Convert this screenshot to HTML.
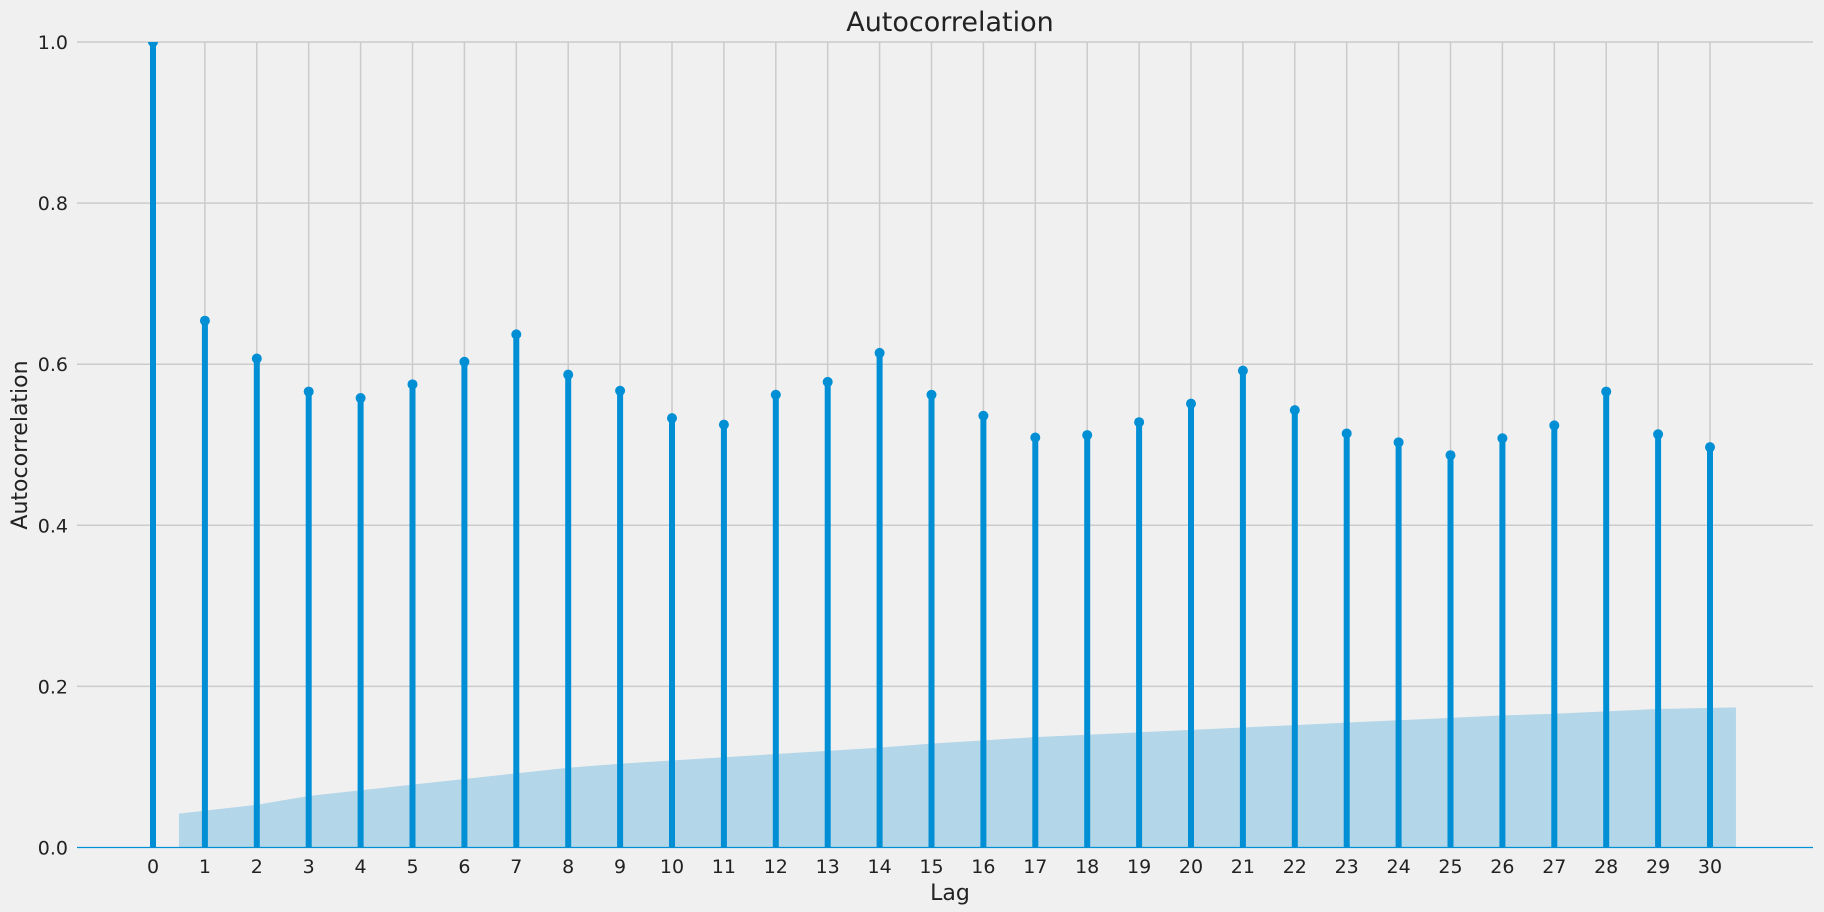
<!DOCTYPE html>
<html><head><meta charset="utf-8"><style>
html,body{margin:0;padding:0;background:#f0f0f0;}
svg{display:block;font-family:"DejaVu Sans","Liberation Sans",sans-serif;}
</style></head><body>
<svg id="chart" width="1824" height="912" viewBox="0 0 1824 912" xmlns="http://www.w3.org/2000/svg">
<defs><clipPath id="plotclip"><rect x="0" y="42" width="1824" height="830"/></clipPath></defs>
<rect width="1824" height="912" fill="#f0f0f0"/>
<g id="grid"></g>
<g id="band"></g>
<g id="stems" clip-path="url(#plotclip)"></g>
<g id="ticks"></g>
<text x="950" y="31" font-size="27" text-anchor="middle" fill="#222">Autocorrelation</text>
<text x="950" y="900" font-size="22" text-anchor="middle" fill="#222">Lag</text>
<text x="27" y="445" font-size="22" text-anchor="middle" fill="#222" transform="rotate(-90 27 445)">Autocorrelation</text>
</svg>
<script>
const lags = [0,1,2,3,4,5,6,7,8,9,10,11,12,13,14,15,16,17,18,19,20,21,22,23,24,25,26,27,28,29,30];
const acfValues = [1,0.654,0.607,0.566,0.558,0.575,0.603,0.637,0.587,0.567,0.533,0.525,0.562,0.578,0.614,0.562,0.536,0.509,0.512,0.528,0.551,0.592,0.543,0.514,0.503,0.487,0.508,0.524,0.566,0.513,0.497];
const confBand = [0,0.042,0.053,0.064,0.071,0.078,0.085,0.092,0.099,0.104,0.108,0.112,0.116,0.120,0.124,0.129,0.133,0.137,0.140,0.143,0.146,0.149,0.152,0.155,0.158,0.161,0.164,0.166,0.169,0.172,0.174];
const yTicks = [0,0.2,0.4,0.6,0.8,1.0];
const yTickLabels = ["0.0","0.2","0.4","0.6","0.8","1.0"];

const NS="http://www.w3.org/2000/svg";
const X0=77, X1=1813, Y0=847.5, Y1=42;
function xs(l){return 153 + l*(1710-153)/30;}
function ys(v){return Y0 - v*(Y0-Y1);}
function mk(tag,attrs,parent){const e=document.createElementNS(NS,tag);for(const k in attrs)e.setAttribute(k,attrs[k]);parent.appendChild(e);return e;}
const grid=document.getElementById('grid'),band=document.getElementById('band'),stems=document.getElementById('stems'),ticks=document.getElementById('ticks');

yTicks.forEach((v,i)=>{
  if(v>0){const g=mk('line',{x1:X0,x2:X1,y1:ys(v),y2:ys(v),stroke:'#cbcbcb','stroke-width':1.5},grid);
  
  }
  const t=mk('text',{x:68,y:ys(v)+7,'font-size':19,'text-anchor':'end',fill:'#222'},ticks);
  t.textContent=yTickLabels[i];
  
  
});
lags.forEach(l=>{
  const g=mk('line',{x1:xs(l),x2:xs(l),y1:Y1,y2:Y0,stroke:'#cbcbcb','stroke-width':1.5},grid);
  
  
  const t=mk('text',{x:xs(l),y:873,'font-size':19,'text-anchor':'middle',fill:'#222'},ticks);
  t.textContent=String(l);
  
  
});
let pts=[];
for(let i=1;i<lags.length;i++){
  let x=xs(lags[i]);
  if(i===1) x=xs(lags[i]-0.5);
  if(i===lags.length-1) x=xs(lags[i]+0.5);
  pts.push([x,ys(confBand[i])]);
}
let d='M'+pts[0][0]+','+Y0+' '+pts.map(p=>'L'+p[0]+','+p[1]).join(' ')+' L'+pts[pts.length-1][0]+','+Y0+' Z';
const bp=mk('path',{d:d,fill:'#b3d6e8'},band);


const ax=mk('line',{x1:X0,x2:X1,y1:Y0,y2:Y0,stroke:'#008fd5','stroke-width':1.2},stems);


lags.forEach((l,i)=>{
  const s=mk('line',{x1:xs(l),x2:xs(l),y1:Y0,y2:ys(acfValues[i]),stroke:'#008fd5','stroke-width':6},stems);
  
  
  const c=mk('circle',{cx:xs(l),cy:ys(acfValues[i]),r:5,fill:'#008fd5'},stems);
  
  
});
</script>
</body></html>
